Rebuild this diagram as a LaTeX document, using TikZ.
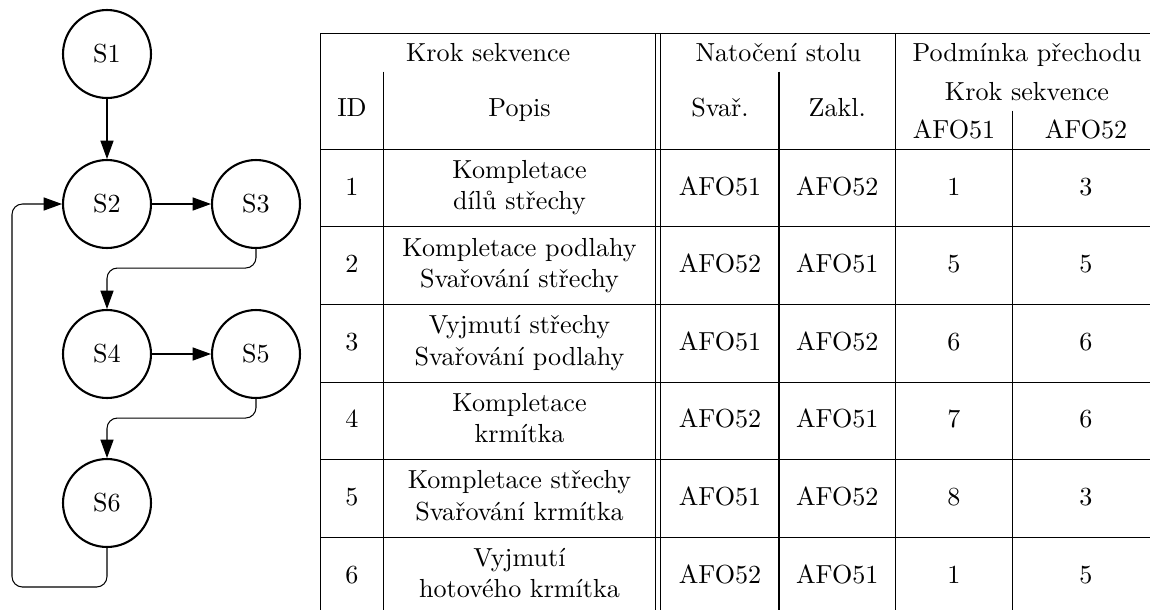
\documentclass[tikz,border=0pt]{standalone}
\usepackage{fontspec}
\usetikzlibrary{arrows.meta}
\newcommand\twoline[2]{\begin{tabular}[t]{@{}c@{}}#1\\#2\end{tabular}}
\begin{document}
\begin{tikzpicture}[x=0.3831pt, y=-0.3831pt,
  state/.style={circle, draw, line width=0.8pt, minimum size=33.7pt, inner sep=0pt},
  arr/.style={-{Triangle[length=7pt,width=5pt]}, line width=0.4pt, rounded corners=4pt},
  rule/.style={line width=0.4pt},
  cell/.style={anchor=base, inner sep=0pt}]
\useasboundingbox (0,0) rectangle (1150,610);

% --- state diagram ---
\node[state] (s1) at (107,54)  {S1};
\node[state] (s2) at (107,204) {S2};
\node[state] (s3) at (256,204) {S3};
\node[state] (s4) at (107,354) {S4};
\node[state] (s5) at (256,354) {S5};
\node[state] (s6) at (107,503) {S6};
\coordinate (back) at (12,587);

\draw[arr] (s1) -- (s2);
\draw[arr] (s2) -- (s3);
\draw[arr] (s3.south) -- ++(0,19) -| (s4.north);
\draw[arr] (s4) -- (s5);
\draw[arr] (s5.south) -- ++(0,19) -| (s6.north);
\draw[arr] (s6.south) |- (back) |- (s2.west);

% --- table rules ---
\draw[rule] (320.7,33.3) -- (1150,33.3);
\draw[rule] (320.7,149.3) -- (1150,149.3);
\foreach \k in {1,...,5}
  \draw[rule] (320.7,149.3+77.6*\k) -- (1150,149.3+77.6*\k);
\draw[rule] (320.7,33.3) -- (320.7,610);
\draw[rule] (655.7,33.3) -- (655.7,610);
\draw[rule] (660.7,33.3) -- (660.7,610);
\draw[rule] (895.7,33.3) -- (895.7,610);
\draw[rule] (383.3,71.7) -- (383.3,610);
\draw[rule] (779,71.7) -- (779,610);
\draw[rule] (1012.3,110.7) -- (1012.3,610);

% --- table header ---
\node[cell] (hkrok)  at (488.2,61.3)  {Krok sekvence};
\node[cell] (hnat)   at (778.3,61.3)  {Natočení stolu};
\node[cell] (hpod)   at (1027,61.3)   {Podmínka přechodu};
\node[cell] (hkrokb) at (1027,100)    {Krok sekvence};
\node[cell] (hid)    at (352,116.7)   {ID};
\node[cell] (hpopis) at (519.5,116.7) {Popis};
\node[cell] (hsvar)  at (720,116.7)   {Svař.};
\node[cell] (hzakl)  at (837.3,116.7) {Zakl.};
\node[cell] (hafoa)  at (954,138.3)   {AFO51};
\node[cell] (hafob)  at (1086,138.3)  {AFO52};

% --- table body ---
\foreach \i/\da/\db/\sv/\zk/\pa/\pb [count=\k from 0] in {
    1/Kompletace/dílů střechy/AFO51/AFO52/1/3,
    2/Kompletace podlahy/Svařování střechy/AFO52/AFO51/5/5,
    3/Vyjmutí střechy/Svařování podlahy/AFO51/AFO52/6/6,
    4/Kompletace/krmítka/AFO52/AFO51/7/6,
    5/Kompletace střechy/Svařování krmítka/AFO51/AFO52/8/3,
    6/Vyjmutí/hotového krmítka/AFO52/AFO51/1/5} {
  \pgfmathsetmacro\top{149.3+77.6*\k}
  \node[cell] (id\i)   at (352,\top+45.7)   {\i};
  \node[cell] (pop\i)  at (519.5,\top+29.2) {\twoline{\da}{\db}};
  \node[cell] (sv\i)   at (720,\top+45.7)   {\sv};
  \node[cell] (zk\i)   at (837.3,\top+45.7) {\zk};
  \node[cell] (pa\i)   at (954,\top+45.7)   {\pa};
  \node[cell] (pb\i)   at (1086,\top+45.7)  {\pb};
}
\end{tikzpicture}
\end{document}
